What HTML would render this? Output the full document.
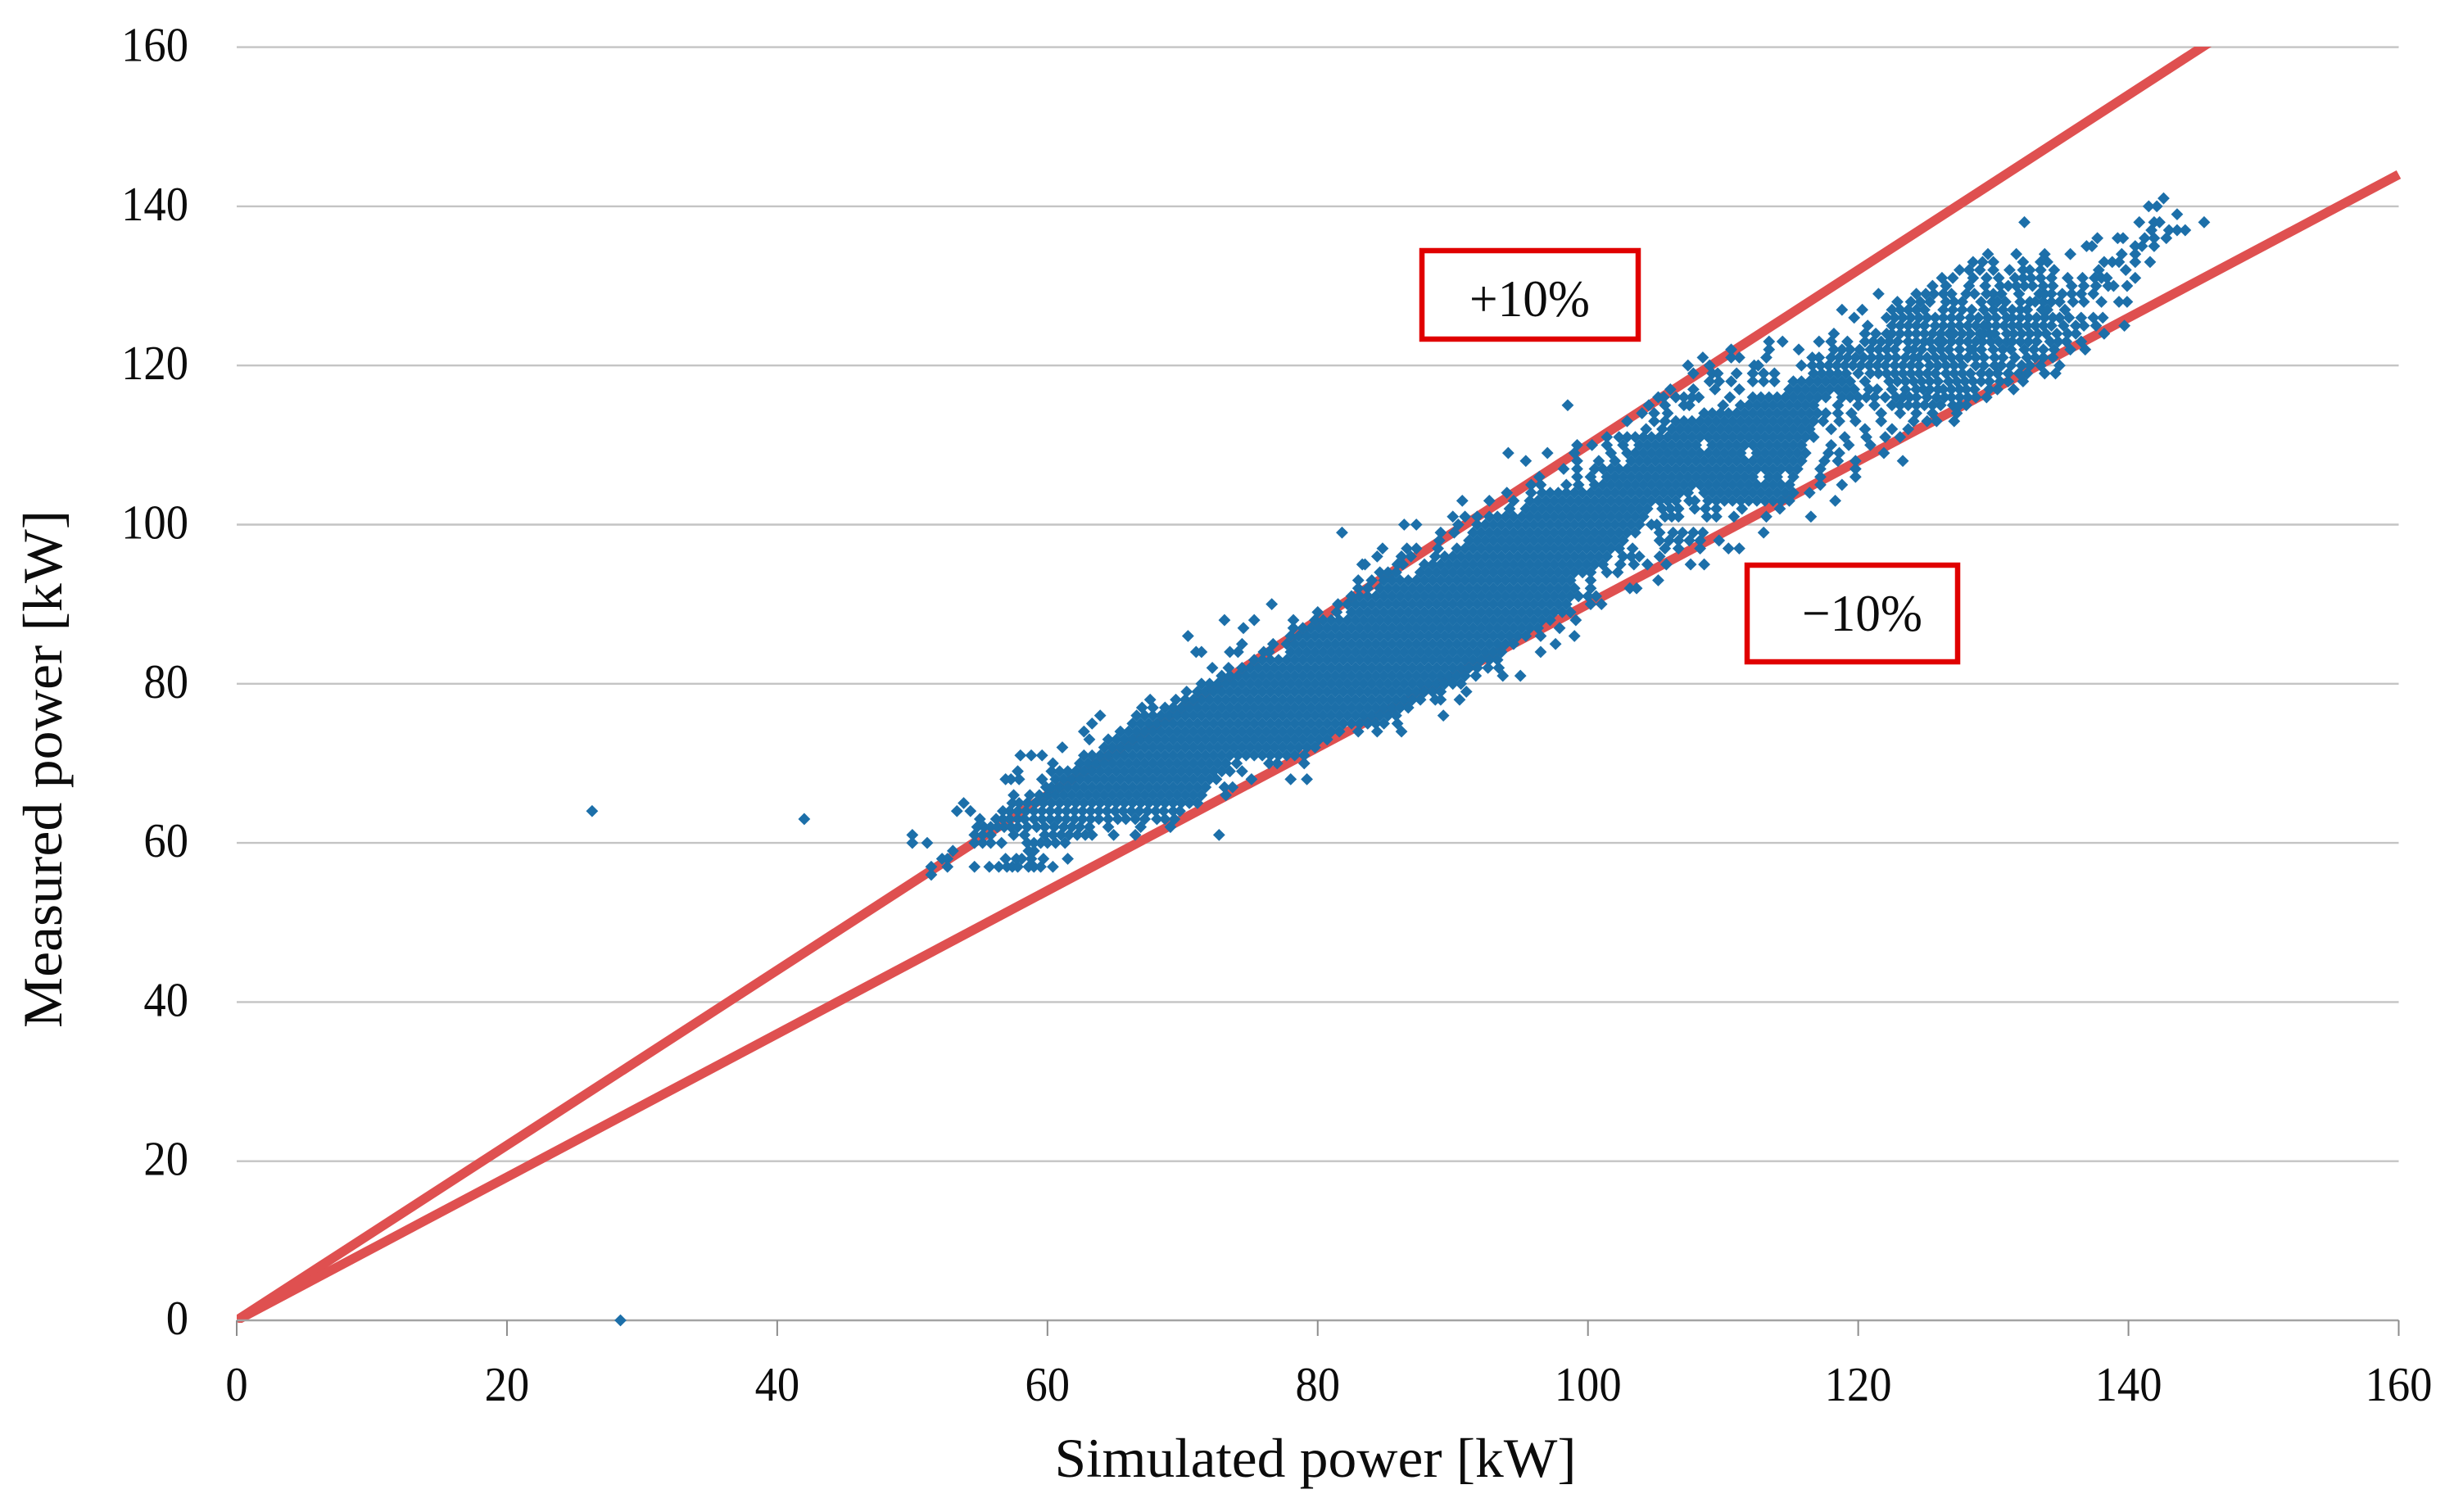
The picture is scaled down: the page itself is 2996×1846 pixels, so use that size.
<!DOCTYPE html>
<html lang="en">
<head>
<meta charset="utf-8">
<title>Measured vs simulated power</title>
<style>
html,body{margin:0;padding:0;background:#fff}
svg{display:block}
text{font-family:"Liberation Serif",serif;fill:#0c0c0c}
</style>
</head>
<body>
<svg id="chart" xmlns="http://www.w3.org/2000/svg" width="2996" height="1846" viewBox="0 0 2996 1846">
  <defs>
    <clipPath id="plot-clip"><rect x="289" y="57" width="2642" height="1558"/></clipPath>
  </defs>
  <rect x="0" y="0" width="2996" height="1846" fill="#fff"/>
  <g id="grid"></g>
  <g id="bands" clip-path="url(#plot-clip)"></g>
  <g id="axes"></g>
  <g id="points" fill="#1c6fa9"></g>
  <g>
    <rect x="1736" y="306" width="264" height="108" fill="#fff" stroke="#e00000" stroke-width="6.5"/>
    <text x="1794" y="386" font-size="64" textLength="147" lengthAdjust="spacingAndGlyphs">+10%</text>
  </g>
  <g>
    <rect x="2133" y="690" width="257" height="118" fill="#fff" stroke="#e00000" stroke-width="6.5"/>
    <text x="2200" y="770" font-size="64" textLength="147" lengthAdjust="spacingAndGlyphs">−10%</text>
  </g>
  <text x="1606" y="1803" font-size="68" text-anchor="middle" textLength="637" lengthAdjust="spacingAndGlyphs">Simulated power [kW]</text>
  <text transform="translate(75 939) rotate(-90)" x="0" y="0" font-size="68" text-anchor="middle" textLength="632" lengthAdjust="spacingAndGlyphs">Measured power [kW]</text>
</svg>
<script>
const xTicks = [0,20,40,60,80,100,120,140,160];
const yTicks = [0,20,40,60,80,100,120,140,160];
const bandRatios = [1.1,0.9];
const bandNames = ['plus-10-percent-line','minus-10-percent-line'];
const measuredLevels = [0,56,57,58,59,60,61,62,63,64,65,66,67,68,69,70,71,72,73,74,75,76,77,78,79,80,81,82,83,84,85,86,87,88,89,90,91,92,93,94,95,96,97,98,99,100,101,102,103,104,105,106,107,108,109,110,111,112,113,114,115,116,117,118,119,120,121,122,123,124,125,126,127,128,129,130,131,132,133,134,135,136,137,138,139,140,141];
const simulatedDeciKw = [
[284],
[514],
[514,526,546,557,564,570,574,578,586,590,595,604],
[522,526,569,577,581,588,597,615],
[530,586,590],
[500,511,546,552,558,566,585,590,595,600,606,613],
[500,546,552,558,575,583,598,604,610,616,622,628,633,649,665,727],
[548,553,558,563,568,573,578,585,592,598,605,612,618,624,631,645,669,691],
[550,562,567,572,578,583,590,596,602,608,614,620,626,632,638,645,652,658,665,672,681,687,694],
[263,533,543,567,572,578,584,590,596,602,608,614,620,626,632,638,644,650,656,662,668,674,680,686,693,698],
[538,574,579,585,591,597,603,609,615,621,627,633,639,645,651,657,663,669,675,681,687,693,699,705,711],
[575,587,594,600,606,612,618,624,630,636,642,648,654,660,666,672,678,684,690,696,702,708,714,732],
[599,603,609,615,621,627,633,639,645,651,657,663,669,675,681,687,693,699,705,711,717,731,737],
[569,573,579,596,606,612,618,624,630,636,642,648,654,660,666,672,678,684,690,696,702,708,714,720,725,751,780,792],
[578,603,609,615,621,627,633,639,645,651,657,663,669,675,681,687,693,699,705,711,717,723,729,735,744],
[604,624,630,636,642,648,654,660,666,672,678,684,690,696,702,708,714,720,726,732,740,764,770,790],
[580,588,596,627,633,639,645,651,657,663,669,675,681,687,693,699,705,711,717,723,729,735,741,747,753,759,765,771,777,783,790],
[611,642,648,654,660,666,672,678,684,690,696,702,708,714,720,726,732,738,744,750,756,762,768,774,780,786,792,798],
[631,645,651,657,663,669,675,681,687,693,699,705,711,717,723,729,735,741,747,753,759,765,771,777,783,789,795,801,807],
[627,654,660,666,672,678,684,690,696,702,708,714,720,726,732,738,744,750,756,762,768,774,780,786,792,798,804,810,816,830,844,862],
[633,663,669,675,681,687,693,699,705,711,717,723,729,735,741,747,753,759,765,771,777,783,789,795,801,807,813,819,825,831,837,843,849,859],
[639,666,672,678,684,690,696,702,708,714,720,726,732,738,744,750,756,762,768,774,780,786,792,798,804,810,816,822,828,834,840,846,852,858,893],
[670,678,687,693,699,705,711,717,723,729,735,741,747,753,759,765,771,777,783,789,795,801,807,813,819,825,831,837,843,849,855,861,867],
[676,695,702,708,714,720,726,732,738,744,750,756,762,768,774,780,786,792,798,804,810,816,822,828,834,840,846,852,858,864,870,876,887,891,905],
[703,711,717,723,729,735,741,747,753,759,765,771,777,783,789,795,801,807,813,819,825,831,837,843,849,855,861,867,873,879,885,891,910],
[714,720,726,732,738,744,750,756,762,768,774,780,786,792,798,804,810,816,822,828,834,840,846,852,858,864,870,876,882,888,894,900,906],
[729,735,741,747,753,759,765,771,777,783,789,795,801,807,813,819,825,831,837,843,849,855,861,867,873,879,885,891,897,903,909,917,937,950],
[722,734,744,750,756,762,768,774,780,786,792,798,804,810,816,822,828,834,840,846,852,858,864,870,876,882,888,894,900,906,912,918,926,934],
[753,759,765,771,777,783,789,795,801,807,813,819,825,831,837,843,849,855,861,867,873,879,885,891,897,903,909,915,921,927,933],
[710,714,735,741,760,764,780,786,792,798,804,810,816,822,828,834,840,846,852,858,864,870,876,882,888,894,900,906,912,918,924,930,936,965],
[744,767,777,783,789,795,801,807,813,819,825,831,837,843,849,855,861,867,873,879,885,891,897,903,909,915,921,927,933,939,945,976],
[704,780,786,792,798,804,810,816,822,828,834,840,846,852,858,864,870,876,882,888,894,900,906,912,918,924,930,936,942,948,954,965,990],
[745,782,789,795,801,807,813,819,825,831,837,843,849,855,861,867,873,879,885,891,897,903,909,915,921,927,933,939,945,951,957,963,979],
[731,753,782,798,804,810,816,822,828,834,840,846,852,858,864,870,876,882,888,894,900,906,912,918,924,930,936,942,948,954,960,966,972,991],
[800,814,825,831,837,843,849,855,861,867,873,879,885,891,897,903,909,915,921,927,933,939,945,951,957,963,969,975,981,987],
[766,815,822,828,834,840,846,852,858,864,870,876,882,888,894,900,906,912,918,924,930,936,942,948,954,960,966,972,978,984,1002,1010],
[825,831,837,843,849,855,861,867,873,879,885,891,897,903,909,915,921,927,933,939,945,951,957,963,969,975,981,987,993,1000,1006],
[830,837,846,852,858,864,870,876,882,888,894,900,906,912,918,924,930,936,942,948,954,960,966,972,978,984,990,1002,1031,1036],
[830,840,849,855,861,867,873,879,885,891,897,903,909,915,921,927,933,939,945,951,957,963,969,975,981,987,1002,1052],
[846,852,858,876,882,888,894,900,906,912,918,924,930,936,942,948,954,960,966,972,978,984,990,996,1002,1014,1022],
[833,835,859,863,879,885,891,897,903,909,915,921,927,933,939,945,951,957,963,969,975,981,987,993,999,1005,1011,1024,1034,1044,1058,1076,1086],
[844,862,869,887,894,900,906,912,918,924,930,936,942,948,954,960,966,972,978,984,990,996,1002,1008,1014,1026,1032,1038,1053],
[848,866,873,889,903,909,915,921,927,933,939,945,951,957,963,969,975,981,987,993,999,1005,1011,1017,1023,1033,1057,1067,1083,1104,1112],
[890,912,918,924,930,936,942,948,954,960,966,972,978,984,990,996,1002,1008,1014,1020,1026,1053,1060,1067,1075,1083,1097],
[818,891,901,915,921,927,933,939,945,951,957,963,969,975,981,987,993,999,1005,1011,1017,1023,1029,1035,1053,1063,1070,1078,1085,1130],
[864,873,904,918,924,930,936,942,948,954,960,966,972,978,984,990,996,1002,1008,1014,1020,1026,1032,1038,1047,1051],
[900,909,918,927,933,939,945,951,957,963,969,975,981,987,993,999,1005,1011,1017,1023,1029,1035,1041,1057,1062,1067,1088,1095,1108,1132,1165],
[942,954,960,966,972,978,984,990,996,1002,1008,1014,1020,1026,1032,1038,1044,1055,1061,1067,1079,1087,1095,1114,1142],
[907,927,945,957,963,969,975,981,987,993,999,1005,1011,1017,1023,1029,1035,1041,1047,1053,1059,1065,1075,1079,1089,1095,1101,1107,1113,1119,1125,1131,1137,1143,1149,1183],
[940,958,966,972,978,984,990,996,1002,1008,1014,1020,1026,1032,1038,1044,1050,1056,1062,1068,1074,1086,1092,1098,1104,1110,1116,1122,1128,1134,1140,1146,1152,1164],
[958,965,984,993,1005,1011,1017,1023,1029,1035,1041,1047,1053,1059,1065,1071,1077,1083,1089,1095,1101,1107,1113,1119,1125,1131,1137,1143,1149,1172,1188],
[964,992,1002,1014,1020,1026,1032,1038,1044,1050,1056,1062,1068,1074,1080,1086,1092,1098,1104,1110,1116,1122,1134,1140,1152,1172,1198],
[982,992,1005,1011,1017,1023,1029,1035,1041,1047,1053,1059,1065,1071,1077,1083,1089,1095,1101,1107,1113,1119,1125,1131,1137,1143,1149,1155,1172,1198],
[954,992,1008,1020,1032,1038,1044,1050,1056,1062,1068,1074,1080,1086,1092,1098,1104,1110,1116,1122,1128,1134,1140,1146,1152,1158,1175,1185,1198,1233],
[941,970,990,1017,1029,1035,1041,1047,1053,1059,1065,1071,1077,1083,1089,1095,1101,1107,1113,1125,1131,1137,1143,1149,1155,1161,1178,1186,1219],
[992,1003,1014,1026,1038,1044,1050,1056,1062,1068,1074,1080,1092,1098,1104,1110,1116,1122,1128,1134,1140,1146,1152,1158,1180,1193,1209],
[1014,1023,1029,1035,1041,1047,1053,1059,1065,1071,1077,1083,1089,1095,1101,1107,1113,1119,1125,1131,1137,1143,1149,1155,1161,1167,1190,1206,1220,1231],
[1043,1055,1062,1068,1074,1080,1086,1092,1098,1104,1110,1116,1122,1128,1134,1140,1146,1152,1158,1164,1180,1205,1225,1237],
[1029,1049,1057,1065,1071,1077,1083,1089,1095,1101,1107,1113,1119,1125,1131,1137,1143,1149,1155,1161,1167,1174,1186,1198,1217,1241,1251,1258,1271],
[1040,1049,1059,1086,1092,1098,1104,1110,1116,1122,1128,1134,1140,1146,1152,1158,1164,1170,1176,1185,1195,1217,1231,1243,1255,1273],
[1045,1057,1071,1075,1100,1113,1119,1125,1131,1137,1143,1149,1155,1161,1167,1185,1200,1212,1225,1231,1237,1243,1249,1255,1261,1270,1275,1280],
[1052,1056,1065,1071,1077,1082,1105,1122,1128,1134,1140,1146,1152,1158,1164,1170,1176,1188,1194,1200,1206,1212,1220,1228,1233,1238,1243,1251,1258,1264,1269,1275,1281,1287,1295],
[1061,1078,1094,1112,1149,1155,1161,1167,1173,1179,1185,1191,1197,1208,1214,1225,1235,1243,1248,1253,1259,1263,1269,1275,1280,1286,1297,1303,1315],
[1090,1097,1106,1122,1130,1138,1152,1158,1164,1170,1176,1182,1188,1194,1205,1223,1229,1235,1241,1247,1253,1259,1267,1273,1279,1285,1291,1297,1305,1311,1322],
[1078,1092,1096,1110,1122,1130,1138,1167,1173,1179,1185,1191,1200,1209,1215,1221,1227,1233,1239,1245,1251,1257,1265,1271,1277,1283,1291,1297,1303,1311,1319,1325,1338,1346],
[1074,1090,1123,1126,1158,1166,1172,1178,1184,1190,1196,1202,1208,1214,1220,1227,1233,1239,1245,1253,1259,1265,1271,1277,1287,1293,1301,1306,1313,1321,1327,1335,1349],
[1085,1106,1112,1132,1166,1171,1180,1186,1192,1198,1204,1210,1216,1222,1228,1235,1241,1245,1251,1257,1263,1269,1275,1281,1287,1293,1301,1307,1316,1325,1331,1337,1344],
[1106,1134,1156,1182,1188,1194,1201,1209,1215,1221,1227,1237,1241,1247,1255,1261,1267,1275,1283,1285,1291,1300,1307,1313,1323,1330,1337,1345,1357,1368],
[1134,1144,1171,1180,1192,1205,1211,1217,1223,1229,1237,1243,1249,1253,1259,1263,1269,1275,1281,1287,1292,1298,1304,1310,1314,1320,1326,1332,1342,1348,1354,1365],
[1182,1205,1213,1221,1225,1231,1237,1243,1249,1255,1261,1267,1271,1277,1283,1290,1293,1297,1301,1310,1315,1321,1327,1333,1339,1347,1355,1361,1382],
[1207,1225,1231,1237,1243,1249,1257,1263,1269,1275,1281,1287,1293,1296,1302,1308,1314,1319,1325,1331,1337,1343,1352,1361,1367,1376,1397],
[1197,1221,1227,1233,1239,1245,1251,1257,1263,1269,1275,1283,1289,1296,1302,1310,1314,1320,1326,1332,1338,1344,1349,1356,1365,1374,1381],
[1188,1203,1225,1231,1237,1243,1249,1263,1270,1277,1284,1293,1300,1307,1314,1320,1325,1336,1340,1353],
[1229,1239,1246,1253,1265,1271,1277,1291,1299,1303,1309,1320,1327,1331,1337,1343,1349,1359,1367,1380,1393,1399],
[1215,1243,1250,1256,1263,1269,1280,1286,1295,1300,1306,1319,1334,1338,1343,1351,1358,1365,1374],
[1255,1265,1282,1294,1305,1311,1317,1323,1329,1337,1344,1358,1367,1376,1385,1389,1399],
[1262,1270,1285,1295,1304,1316,1322,1328,1335,1343,1355,1366,1375,1380,1384,1405],
[1275,1282,1290,1300,1312,1322,1327,1335,1345,1378,1398],
[1285,1292,1300,1322,1335,1340,1382,1388,1393,1405,1416],
[1296,1317,1338,1357,1395,1405],
[1369,1373,1405,1410,1419],
[1377,1392,1396,1412,1419,1428],
[1417,1430,1436,1442],
[1323,1408,1419,1423,1456],
[1436],
[1415,1421],
[1426]
];
const outlierSimulatedDeciKw = [420];
const outlierMeasuredKw = [63];
const extraSimulatedDeciKw = [985];
const extraMeasuredKw = [115];

const SVGNS = 'http://www.w3.org/2000/svg';
const xScale = v => 289 + v * (2928.5 - 289) / 160;
const yScale = v => 1612 - v * (1612 - 57.6) / 160;
const MARKER_R = 7.4;

function make(tag, attrs, parent) {
  const el = document.createElementNS(SVGNS, tag);
  for (const k in attrs) el.setAttribute(k, attrs[k]);
  parent.appendChild(el);
  return el;
}

const gridGroup = document.getElementById('grid');
const axesGroup = document.getElementById('axes');
const bandsGroup = document.getElementById('bands');
const pointsGroup = document.getElementById('points');

yTicks.forEach(t => {
  if (t !== 0) {
    const g = make('line', {x1: 289, x2: 2928.5, y1: yScale(t), y2: yScale(t), stroke: '#c4c4c4', 'stroke-width': 2.4}, gridGroup);
    
    
  }
  const label = make('text', {x: 230, y: yScale(t) + 17, 'font-size': 59, 'text-anchor': 'end', textLength: String(t).length * 27.3, lengthAdjust: 'spacingAndGlyphs'}, axesGroup);
  label.textContent = t;
  
  
});

bandRatios.forEach((ratio, i) => {
  const line = make('line', {x1: xScale(0), y1: yScale(0), x2: xScale(160), y2: yScale(160 * ratio), stroke: '#df5050', 'stroke-width': 11.5}, bandsGroup);
  
  
});

const xAxisLine = make('line', {x1: 289, x2: 2928.5, y1: yScale(0), y2: yScale(0), stroke: '#a3a3a3', 'stroke-width': 2.6}, axesGroup);



xTicks.forEach(t => {
  const tick = make('line', {x1: xScale(t), x2: xScale(t), y1: yScale(0), y2: 1631, stroke: '#8c8c8c', 'stroke-width': 2}, axesGroup);
  
  
  const label = make('text', {x: xScale(t), y: 1710, 'font-size': 59, 'text-anchor': 'middle', textLength: String(t).length * 27.3, lengthAdjust: 'spacingAndGlyphs'}, axesGroup);
  label.textContent = t;
  
  
});

function drawPoint(simKw, measKw) {
  const cx = xScale(simKw);
  const cy = yScale(measKw);
  const p = make('path', {d: 'M' + cx + ' ' + (cy - MARKER_R) + 'L' + (cx + MARKER_R) + ' ' + cy + 'L' + cx + ' ' + (cy + MARKER_R) + 'L' + (cx - MARKER_R) + ' ' + cy + 'Z'}, pointsGroup);
  
  
}

measuredLevels.forEach((level, i) => {
  simulatedDeciKw[i].forEach(v => drawPoint(v / 10, level));
});
outlierSimulatedDeciKw.forEach((v, i) => drawPoint(v / 10, outlierMeasuredKw[i]));
extraSimulatedDeciKw.forEach((v, i) => drawPoint(v / 10, extraMeasuredKw[i]));
</script>
</body>
</html>
